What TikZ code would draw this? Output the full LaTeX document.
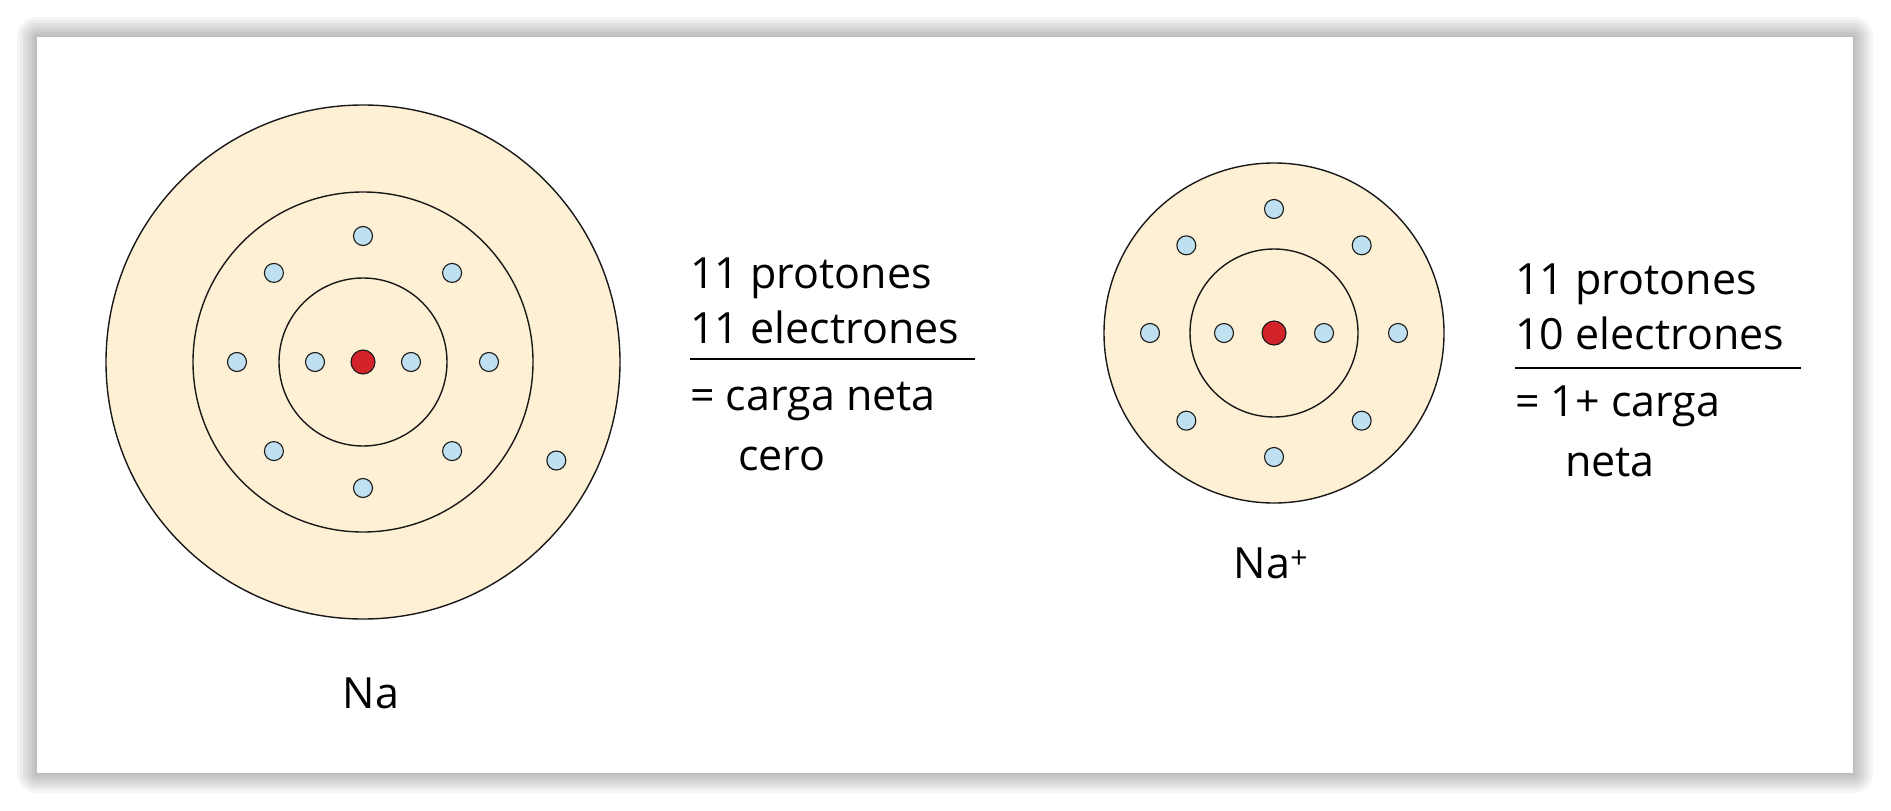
\documentclass[tikz,border=0pt]{standalone}
\usepackage{fontspec}
\setmainfont{Open Sans}
\usetikzlibrary{calc}
\definecolor{shell}{RGB}{254,240,212}
\definecolor{elec}{RGB}{190,224,240}
\definecolor{nucl}{RGB}{210,35,42}
\tikzset{
  orbit/.style={draw=black!90,line width=1.4pt},
  electron/.style={circle,draw=black!90,line width=1.1pt,fill=elec,minimum size=19pt,inner sep=0pt},
  nucleus/.style={circle,draw=black!90,line width=1.1pt,fill=nucl,minimum size=24pt,inner sep=0pt},
  lbl/.style={font=\fontsize{43}{50}\selectfont,inner sep=0pt,anchor=base west}
}
\begin{document}
\begin{tikzpicture}[x=1pt,y=-1pt]
\useasboundingbox (0,0) rectangle (1891,811);
\fill[white] (0,0) rectangle (1891,811);
%shadow of the frame
\foreach \s in {20,17,...,2}
  \fill[black,opacity=0.04,rounded corners=\s] (37-\s,37-\s) rectangle (1853+\s,773+\s);
\fill[white] (37,37) rectangle (1853,773);

%Na atom
\coordinate (na) at (363,362);
\fill[fill=shell] (na) circle (257);
\draw[orbit] (na) circle (257);
\draw[orbit] (na) circle (170);
\draw[orbit] (na) circle (84);
\foreach \a in {0,45,...,315}
  \node[electron] at ($(na)+(\a:126)$) {};
\node[electron] at ($(na)+(27:217)$) {};
\node[electron] at ($(na)+(-48,0)$) {};
\node[electron] at ($(na)+(48,0)$) {};
\node[nucleus] (nanuc) at (na) {};
\node[lbl,anchor=base] (naname) at (371,708) {Na};

%Na+ ion
\coordinate (ion) at (1274,333);
\fill[fill=shell] (ion) circle (170);
\draw[orbit] (ion) circle (170);
\draw[orbit] (ion) circle (84);
\foreach \a in {0,45,...,315}
  \node[electron] at ($(ion)+(\a:124)$) {};
\node[electron] at ($(ion)+(-50,0)$) {};
\node[electron] at ($(ion)+(50,0)$) {};
\node[nucleus] (ionnuc) at (ion) {};
\node[lbl,anchor=base] (ionname) at (1271,578) {Na\textsuperscript{+}};

%charge bookkeeping, left
\node[lbl] (lp) at (690,288) {11 protones};
\node[lbl] (le) at (690,343) {11 electrones};
\draw[line width=1.2pt] (690,359) -- (975,359);
\node[lbl] (lc) at (690,410) {= carga neta};
\node[lbl] (lz) at (738,470) {cero};

%charge bookkeeping, right
\node[lbl] (rp) at (1515,294) {11 protones};
\node[lbl] (re) at (1515,349) {10 electrones};
\draw[line width=1.2pt] (1515,368) -- (1801,368);
\node[lbl] (rc) at (1515,416) {= 1+ carga};
\node[lbl] (rz) at (1565,476) {neta};
\end{tikzpicture}
\end{document}
